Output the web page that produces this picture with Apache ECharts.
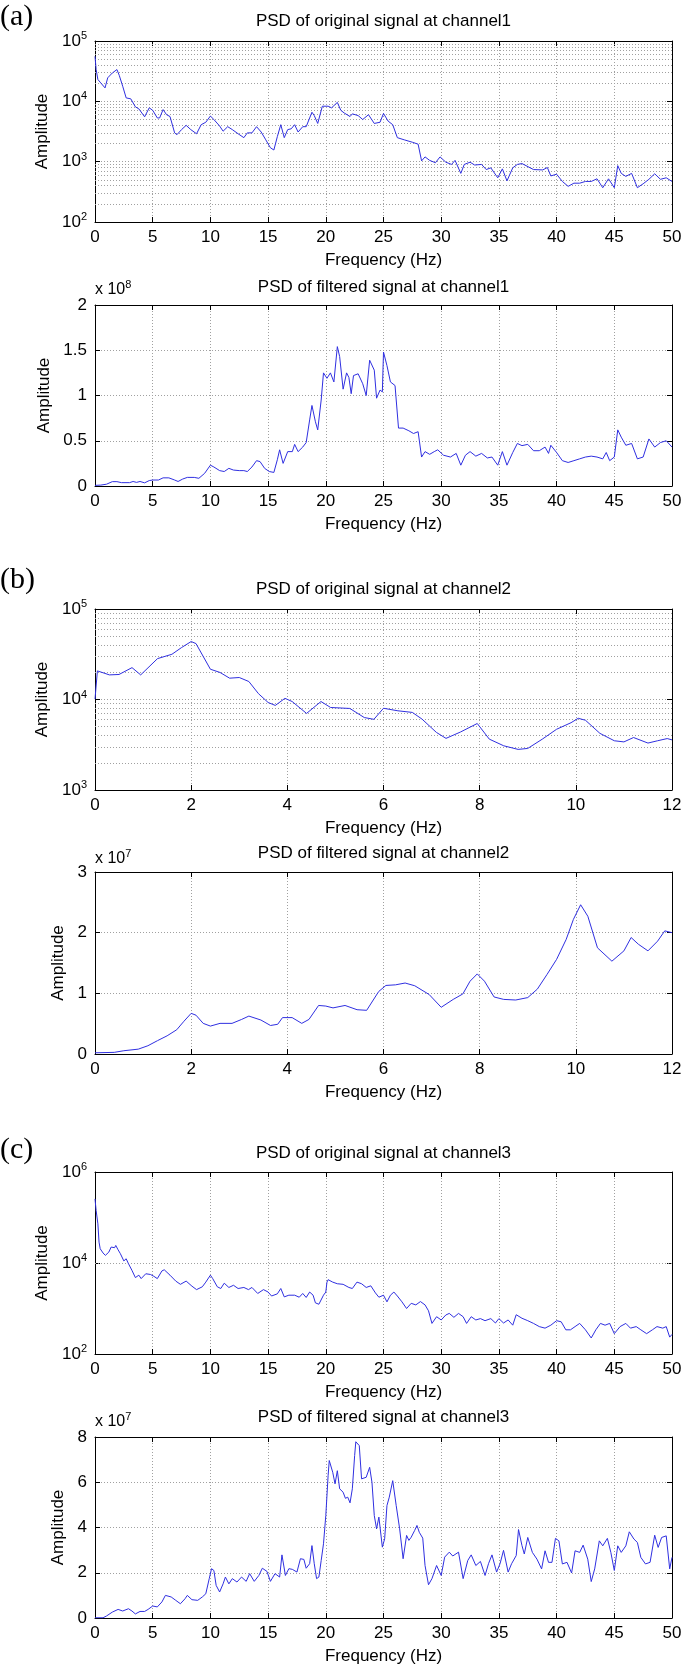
<!DOCTYPE html>
<html><head><meta charset="utf-8">
<script src="https://cdn.jsdelivr.net/npm/echarts@6/dist/echarts.min.js"></script>
<style>html,body{margin:0;padding:0;background:#fff}#c{width:685px;height:1668px}</style>
</head><body><div id="c"></div>
<script>
// ---------- DATA (frequency Hz, amplitude) ----------
const ch1Original = [[0,55700],[0.1,33500],[0.25,23000],[0.5,20200],[0.87,16700],[1.1,24500],[1.5,29500],[1.9,33600],[2.1,27000],[2.4,17800],[2.7,11400],[3.1,11000],[3.5,8100],[3.8,7500],[4.3,5540],[4.7,7800],[5.0,7100],[5.4,5300],[5.6,5300],[5.9,7300],[6.2,6000],[6.5,5600],[6.9,3000],[7.1,2800],[7.5,3400],[7.9,4000],[8.3,3400],[8.8,2900],[9.2,4100],[9.6,4500],[10.0,5700],[10.3,5000],[10.8,3900],[11.1,3200],[11.5,3800],[11.9,3400],[12.4,2900],[12.9,2500],[13.2,3000],[13.6,3000],[14.0,3800],[14.4,3100],[14.8,2300],[15.2,1700],[15.5,1560],[15.8,2600],[16.1,4100],[16.4,2500],[16.7,3400],[17.0,3500],[17.3,4100],[17.6,3100],[18.0,3800],[18.3,3800],[18.8,6600],[19.0,5800],[19.3,4300],[19.7,8300],[20.2,8300],[20.5,7800],[21.0,9600],[21.3,7100],[21.6,6400],[22.1,5600],[22.3,6200],[22.8,5800],[23.2,5000],[23.7,6000],[24.2,4300],[24.7,4500],[25.0,6300],[25.4,4700],[25.8,4100],[26.2,2500],[26.8,2300],[27.5,2100],[28.0,1950],[28.3,1030],[28.6,1200],[29.0,1050],[29.5,960],[29.9,1200],[30.4,980],[30.9,900],[31.2,1050],[31.7,640],[32.0,900],[32.5,980],[32.9,880],[33.5,900],[33.9,740],[34.3,790],[34.9,540],[35.3,760],[35.7,480],[36.2,790],[36.6,900],[37,930],[38,740],[38.8,730],[39.2,800],[39.5,580],[40,620],[40.5,470],[41,390],[41.5,440],[42,440],[42.5,470],[43,470],[43.5,520],[44,370],[44.5,520],[45,370],[45.3,860],[45.6,640],[46,570],[46.5,640],[47,370],[47.5,430],[48,510],[48.5,630],[49,510],[49.5,540],[50,470]];

const ch1Filtered = [[0,0.007],[0.5,0.01],[1.0,0.02],[1.5,0.048],[1.9,0.048],[2.3,0.037],[3.0,0.037],[3.3,0.05],[3.6,0.04],[3.9,0.05],[4.3,0.035],[4.7,0.06],[5.0,0.066],[5.5,0.066],[5.9,0.09],[6.4,0.09],[6.9,0.066],[7.2,0.05],[7.6,0.077],[8.0,0.095],[8.6,0.095],[9.0,0.085],[9.5,0.14],[10.0,0.23],[10.3,0.21],[10.8,0.17],[11.2,0.16],[11.6,0.195],[12.0,0.176],[12.5,0.17],[12.9,0.17],[13.2,0.16],[13.6,0.21],[14.0,0.28],[14.3,0.27],[14.7,0.195],[15.1,0.16],[15.5,0.15],[15.8,0.29],[16.0,0.40],[16.3,0.25],[16.7,0.38],[17.1,0.38],[17.3,0.46],[17.6,0.38],[18.0,0.43],[18.3,0.48],[18.6,0.73],[18.8,0.89],[19.1,0.71],[19.3,0.62],[19.6,0.95],[19.8,1.25],[20.1,1.19],[20.4,1.25],[20.7,1.15],[21.0,1.54],[21.2,1.43],[21.5,1.07],[21.8,1.25],[22.0,1.2],[22.2,1.02],[22.4,1.22],[22.8,1.24],[23.2,1.13],[23.5,1.0],[23.8,1.39],[24.2,1.28],[24.4,0.97],[24.7,1.06],[24.9,1.04],[25.0,1.48],[25.3,1.33],[25.6,1.15],[26.0,1.11],[26.3,0.64],[26.7,0.64],[27.2,0.61],[27.6,0.58],[28.0,0.6],[28.3,0.32],[28.6,0.38],[29.0,0.35],[29.4,0.38],[29.7,0.40],[30.2,0.34],[30.8,0.32],[31.3,0.36],[31.7,0.23],[32.1,0.34],[32.5,0.38],[33.0,0.33],[33.5,0.36],[34.0,0.31],[34.4,0.32],[34.9,0.23],[35.3,0.38],[35.7,0.23],[36.2,0.37],[36.6,0.47],[37,0.446],[37.5,0.46],[38,0.39],[38.5,0.39],[39,0.43],[39.3,0.36],[39.5,0.45],[40,0.37],[40.5,0.28],[41,0.26],[41.5,0.28],[42,0.30],[42.5,0.32],[43,0.33],[43.5,0.32],[44,0.30],[44.3,0.37],[44.6,0.28],[45,0.32],[45.3,0.62],[45.6,0.54],[46,0.45],[46.5,0.47],[47,0.30],[47.5,0.32],[48,0.52],[48.5,0.43],[49,0.48],[49.5,0.50],[50,0.43]];

const ch2Original = [[0,10100],[0.05,20700],[0.3,18700],[0.5,18900],[0.77,22500],[0.95,18700],[1.3,28300],[1.6,31600],[1.8,37500],[2.0,43700],[2.1,41500],[2.4,21600],[2.6,19900],[2.8,17200],[3.0,17500],[3.2,15800],[3.4,11600],[3.6,9270],[3.75,8600],[3.95,10300],[4.1,9500],[4.4,7020],[4.7,9500],[4.9,8160],[5.3,7960],[5.6,6320],[5.8,6040],[6.0,8000],[6.3,7500],[6.6,7200],[6.8,6080],[7.1,4330],[7.3,3720],[7.6,4370],[7.95,5430],[8.2,3650],[8.5,3080],[8.8,2810],[9.0,2880],[9.3,3640],[9.6,4690],[9.9,5540],[10.05,6200],[10.2,5900],[10.5,4230],[10.8,3500],[11.0,3400],[11.2,3800],[11.5,3300],[11.7,3500],[11.9,3700],[12,3580]];

const ch2Filtered = [[0,0.02],[0.4,0.027],[0.6,0.054],[0.9,0.08],[1.1,0.136],[1.3,0.22],[1.5,0.30],[1.7,0.40],[1.85,0.54],[2.0,0.67],[2.1,0.64],[2.25,0.505],[2.4,0.46],[2.6,0.505],[2.85,0.505],[3.05,0.57],[3.2,0.625],[3.45,0.56],[3.65,0.47],[3.8,0.49],[3.9,0.60],[4.1,0.60],[4.3,0.505],[4.45,0.57],[4.65,0.80],[4.8,0.79],[4.95,0.76],[5.2,0.80],[5.45,0.73],[5.65,0.72],[5.9,1.03],[6.05,1.13],[6.25,1.14],[6.45,1.17],[6.65,1.125],[6.95,0.98],[7.2,0.77],[7.45,0.90],[7.65,0.99],[7.8,1.20],[7.95,1.32],[8.1,1.20],[8.3,0.94],[8.5,0.90],[8.75,0.89],[9.0,0.93],[9.2,1.07],[9.4,1.31],[9.6,1.56],[9.8,1.89],[9.95,2.22],[10.1,2.46],[10.25,2.27],[10.45,1.75],[10.75,1.53],[11.0,1.70],[11.15,1.92],[11.3,1.81],[11.5,1.70],[11.7,1.86],[11.85,2.03],[12,2.0]];

const ch3Original = [[0,256000],[0.1,142000],[0.25,72600],[0.35,28800],[0.45,20600],[0.7,16600],[0.9,14700],[1.2,17400],[1.4,22400],[1.7,21700],[1.8,24300],[2.0,19500],[2.2,16000],[2.5,11100],[2.7,12400],[2.9,9670],[3.2,6900],[3.5,4780],[3.8,5400],[4.0,4540],[4.4,5800],[4.8,5600],[5.1,5100],[5.4,4540],[5.8,6700],[6.0,7100],[6.5,5400],[7.0,4000],[7.4,3400],[7.9,4000],[8.4,3100],[8.8,2600],[9.3,3000],[9.6,3800],[10.0,5400],[10.2,4540],[10.6,3000],[10.9,2750],[11.2,3600],[11.6,2900],[12.0,3240],[12.4,2750],[12.9,2900],[13.3,2600],[13.6,2900],[14.1,2140],[14.6,2600],[15.0,2300],[15.3,1880],[15.8,2100],[16.1,2750],[16.4,1800],[16.8,1960],[17.3,1960],[17.7,1770],[18.0,2140],[18.3,1750],[18.6,2300],[18.9,1960],[19.1,1330],[19.4,1240],[19.8,1960],[20.0,2300],[20.1,3800],[20.2,4300],[20.6,3800],[21.0,3500],[21.5,3400],[22.0,2900],[22.3,2750],[22.7,3800],[23.1,3500],[23.5,2900],[23.9,3150],[24.3,2200],[24.6,1770],[25.0,1960],[25.3,1400],[25.6,1960],[25.9,2300],[26.2,1880],[26.6,1400],[27.0,1000],[27.4,1300],[27.8,1200],[28.2,1420],[28.6,1200],[28.9,890],[29.2,470],[29.6,660],[30.0,560],[30.4,720],[30.7,780],[31.1,640],[31.5,780],[31.9,660],[32.2,470],[32.6,660],[33.0,560],[33.4,600],[33.8,540],[34.3,600],[34.7,480],[35.0,600],[35.4,480],[35.8,560],[36.2,430],[36.5,730],[37,610],[37.5,540],[38,470],[38.5,400],[39,370],[39.5,430],[40,540],[40.4,510],[40.8,340],[41.2,340],[41.6,400],[42,470],[42.5,340],[43,225],[43.4,340],[43.8,470],[44.2,430],[44.6,470],[45,280],[45.5,400],[46,470],[46.4,370],[46.9,400],[47.3,340],[47.8,280],[48.3,340],[48.7,400],[49.2,370],[49.5,400],[49.8,235],[50,270]];

const ch3Filtered = [[0,0.01],[0.7,0.01],[1.0,0.09],[1.5,0.26],[2.0,0.38],[2.4,0.31],[2.9,0.41],[3.2,0.31],[3.5,0.18],[3.9,0.29],[4.3,0.29],[4.6,0.38],[5.0,0.53],[5.4,0.49],[5.8,0.71],[6.1,1.0],[6.6,0.93],[7.0,0.78],[7.4,0.63],[7.8,0.85],[8.0,1.0],[8.4,0.81],[8.9,0.78],[9.3,0.93],[9.6,1.07],[9.9,1.74],[10.1,2.18],[10.3,2.1],[10.5,1.44],[10.8,1.15],[11.1,1.51],[11.3,1.81],[11.6,1.51],[11.9,1.74],[12.3,1.59],[12.7,1.81],[13.1,1.62],[13.4,1.96],[13.8,1.62],[14.2,1.88],[14.5,2.2],[14.9,2.06],[15.2,1.62],[15.6,1.96],[16.0,1.81],[16.2,2.79],[16.5,1.88],[16.8,2.18],[17.1,2.15],[17.5,2.03],[17.8,2.62],[18.1,2.59],[18.3,2.2],[18.6,2.4],[18.8,3.2],[19.0,2.4],[19.2,1.74],[19.4,1.81],[19.6,2.54],[19.8,3.28],[20.0,4.53],[20.2,6.29],[20.3,6.96],[20.6,6.44],[20.8,5.93],[21.0,6.51],[21.2,5.71],[21.5,5.56],[21.7,5.29],[21.9,5.34],[22.1,5.09],[22.3,5.71],[22.5,7.18],[22.6,7.79],[22.9,7.62],[23.1,6.15],[23.5,6.22],[23.8,6.66],[24.0,6.0],[24.2,4.53],[24.4,3.94],[24.6,4.46],[24.9,3.13],[25.1,3.5],[25.3,4.97],[25.5,5.34],[25.8,6.07],[26.1,4.97],[26.4,3.94],[26.7,2.62],[27.0,3.65],[27.2,3.43],[27.4,3.57],[27.7,3.87],[27.9,4.09],[28.1,3.79],[28.4,3.53],[28.6,2.32],[28.9,1.47],[29.2,1.74],[29.6,2.32],[30.0,1.88],[30.3,2.69],[30.7,2.91],[31.0,2.74],[31.5,2.91],[31.9,1.74],[32.3,2.54],[32.6,2.79],[33.0,2.32],[33.4,2.5],[33.8,1.88],[34.1,2.4],[34.4,2.79],[34.8,2.03],[35.1,2.4],[35.4,2.99],[35.8,2.03],[36.1,2.4],[36.5,2.76],[36.7,3.91],[37.0,3.2],[37.2,2.83],[37.5,3.56],[37.9,2.9],[38.3,2.6],[38.7,2.17],[39.0,2.97],[39.3,2.46],[39.6,2.46],[39.9,3.52],[40.2,3.41],[40.5,2.39],[40.9,2.46],[41.3,1.99],[41.6,2.97],[42.0,2.9],[42.3,3.22],[42.7,2.6],[43.0,1.61],[43.3,2.17],[43.7,3.41],[44.0,3.19],[44.4,3.52],[44.7,2.9],[45.0,2.1],[45.3,3.19],[45.6,2.9],[46.0,3.19],[46.3,3.81],[46.7,3.49],[47.0,3.34],[47.3,2.68],[47.7,2.39],[48.1,2.46],[48.5,3.66],[48.8,3.12],[49.1,3.56],[49.5,3.63],[49.8,2.17],[50,2.68]];

const panelTitles = ['PSD of original signal at channel1','PSD of filtered signal at channel1','PSD of original signal at channel2','PSD of filtered signal at channel2','PSD of original signal at channel3','PSD of filtered signal at channel3'];
const panelLetters = ['(a)','(b)','(c)'];
const multiplierExp = [null, '8', null, '7', null, '7'];
const xLabel = 'Frequency (Hz)';
const yLabel = 'Amplitude';

// ---------- LAYOUT ----------
const FONT = 'Liberation Sans, Arial, Helvetica, sans-serif';
const LINE = '#2f2fe0';
const GRIDC = '#a0a0a0';
const L = 95, W = 577;
const panels = [
  {data: ch1Original, top: 41, h: 181, xMax: 50, xInt: 5, log: true, yMin: 1e2, yMax: 1e5, minor: true, nameGap: 40, titleY: 21, letterY: 17},
  {data: ch1Filtered, top: 305, h: 181, xMax: 50, xInt: 5, log: false, yMin: 0, yMax: 2, yInt: 0.5, nameGap: 39, titleY: 287, multY: 290},
  {data: ch2Original, top: 609, h: 181, xMax: 12, xInt: 2, log: true, yMin: 1e3, yMax: 1e5, minor: true, nameGap: 40, titleY: 589, letterY: 580},
  {data: ch2Filtered, top: 872, h: 182, xMax: 12, xInt: 2, log: false, yMin: 0, yMax: 3, yInt: 1, nameGap: 26, titleY: 853, multY: 859},
  {data: ch3Original, top: 1172, h: 182, xMax: 50, xInt: 5, log: true, yMin: 1e2, yMax: 1e6, custom: [1e2, 1e4, 1e6], nameGap: 40, titleY: 1153, letterY: 1150},
  {data: ch3Filtered, top: 1437, h: 181, xMax: 50, xInt: 5, log: false, yMin: 0, yMax: 8, yInt: 2, nameGap: 26, titleY: 1417, multY: 1422}
];

const grid = [], xAxis = [], yAxis = [], series = [], graphic = [];
const dotted = {color: GRIDC, width: 1, type: [1, 2]};
const axLine = {show: true, onZero: false, lineStyle: {color: '#000', width: 1}};
const tick = {show: true, inside: true, length: 5, lineStyle: {color: '#000', width: 1}};
const supRich = {s: {fontSize: 11, fontFamily: FONT, color: '#000', padding: [0, 0, 10, 0]}};

panels.forEach((p, i) => {
  grid.push({left: L, width: W, top: p.top, height: p.h, containLabel: false});
  xAxis.push({gridIndex: i, type: 'value', position: 'bottom', min: 0, max: p.xMax, interval: p.xInt,
    axisLine: axLine, axisTick: tick,
    axisLabel: {color: '#000', fontSize: 17, fontFamily: FONT, margin: 7},
    splitLine: {show: true, lineStyle: dotted},
    name: xLabel, nameLocation: 'middle', nameGap: 30,
    nameTextStyle: {color: '#000', fontSize: 17, fontFamily: FONT}});
  xAxis.push({gridIndex: i, type: 'value', position: 'top', min: 0, max: p.xMax, interval: p.xInt,
    axisLine: axLine, axisTick: tick, axisLabel: {show: false}, splitLine: {show: false}});
  const yl = {gridIndex: i, position: 'left', min: p.yMin, max: p.yMax,
    axisLine: axLine, axisTick: Object.assign({}, tick),
    axisLabel: {color: '#000', fontSize: 17, fontFamily: FONT, margin: 8},
    splitLine: {show: true, lineStyle: dotted},
    name: yLabel, nameLocation: 'middle', nameGap: p.nameGap,
    nameTextStyle: {color: '#000', fontSize: 17, fontFamily: FONT}};
  const yr = {gridIndex: i, position: 'right', min: p.yMin, max: p.yMax,
    axisLine: axLine, axisTick: Object.assign({}, tick), axisLabel: {show: false}, splitLine: {show: false}};
  if (p.log) {
    yl.type = 'log'; yl.logBase = 10; yr.type = 'log'; yr.logBase = 10;
    yl.axisLabel.formatter = v => '10{s|' + Math.round(Math.log10(v)) + '}';
    yl.axisLabel.rich = supRich;
    if (p.custom) {
      yl.axisLabel.customValues = p.custom;
      yl.axisTick.customValues = p.custom;
      yr.axisTick.customValues = p.custom;
      yl.splitLine.show = false;
    }
  } else {
    yl.type = 'value'; yr.type = 'value'; yl.interval = p.yInt; yr.interval = p.yInt;
  }
  yAxis.push(yl, yr);

  const refLines = [];
  if (p.minor) {
    for (let d = p.yMin; d < p.yMax; d *= 10) for (let k = 2; k <= 9; k++) refLines.push({yAxis: d * k});
  }
  if (p.custom) refLines.push({yAxis: p.custom[1]});
  series.push({type: 'line', xAxisIndex: 2 * i, yAxisIndex: 2 * i, data: p.data,
    showSymbol: false, symbol: 'none', smooth: false, z: 5,
    lineStyle: {color: LINE, width: 1},
    markLine: refLines.length ? {silent: true, symbol: ['none', 'none'], label: {show: false},
      lineStyle: {color: GRIDC, width: 1, type: [1, 2]}, data: refLines, z: 1, animation: false} : undefined});

  graphic.push({type: 'text', x: L + W / 2, y: p.titleY, z: 10,
    style: {text: panelTitles[i], fill: '#000', fontSize: 17, fontFamily: FONT, align: 'center', verticalAlign: 'middle'}});
  if (p.letterY != null) {
    graphic.push({type: 'text', x: 0, y: p.letterY, z: 10,
      style: {text: panelLetters[i / 2], fill: '#000', fontSize: 30, fontFamily: 'Liberation Serif, Times New Roman, serif', align: 'left', verticalAlign: 'middle'}});
  }
  if (multiplierExp[i]) {
    graphic.push({type: 'text', x: L, y: p.multY, z: 10,
      style: {text: 'x 10{s|' + multiplierExp[i] + '}', fill: '#000', fontSize: 16, fontFamily: FONT, align: 'left', verticalAlign: 'middle',
        rich: {s: {fontSize: 11, fontFamily: FONT, fill: '#000', padding: [0, 0, 10, 0]}}}});
  }
});

const chart = echarts.init(document.getElementById('c'), null, {renderer: 'canvas'});
chart.setOption({animation: false, backgroundColor: '#fff', grid, xAxis, yAxis, series, graphic});
</script></body></html>
